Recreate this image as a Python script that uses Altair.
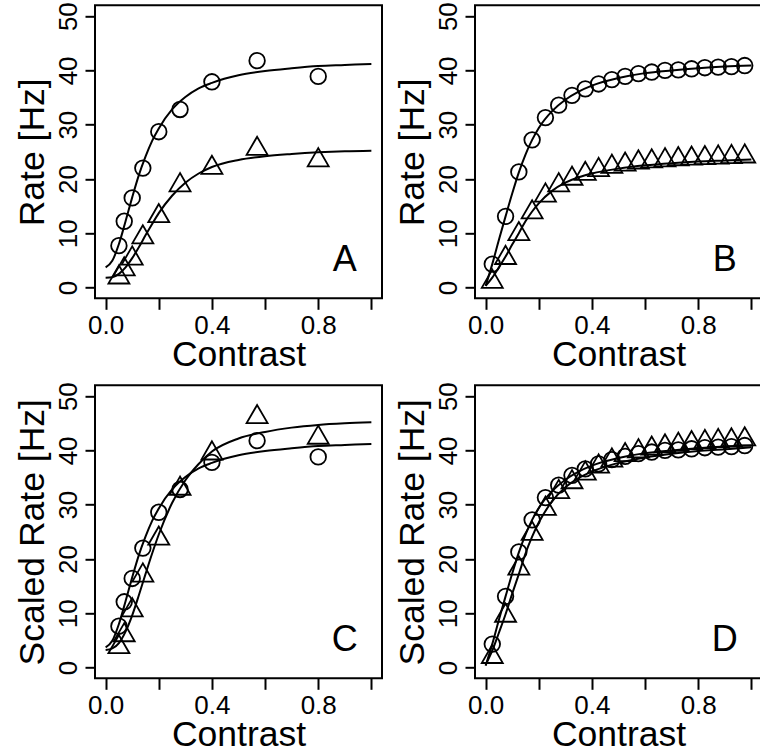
import altair as alt
import pandas as pd

FONT = "Liberation Sans"

# ---- measured points, panels A and C (contrast levels) ----
contrast_ac = [0.05, 0.07, 0.1, 0.14, 0.2, 0.28, 0.4, 0.57, 0.8]
rate_a_circle = [7.7, 12.2, 16.5, 22.0, 28.7, 32.8, 37.9, 41.8, 38.9]
rate_a_triangle = [2.4, 3.9, 5.9, 9.8, 13.7, 19.4, 22.6, 26.1, 24.0]
rate_c_circle = [7.6, 12.1, 16.4, 22.0, 28.6, 32.8, 37.8, 41.8, 38.8]
rate_c_triangle = [4.3, 6.5, 11.1, 17.5, 24.3, 33.5, 40.0, 46.7, 42.9]

# ---- model points, panels B and D ----
contrast_bd = [0.025, 0.075, 0.125, 0.175, 0.225, 0.275, 0.325, 0.375, 0.425, 0.475,
               0.525, 0.575, 0.625, 0.675, 0.725, 0.775, 0.825, 0.875, 0.925, 0.975]
rate_b_circle = [4.3, 13.1, 21.3, 27.2, 31.3, 33.6, 35.4, 36.6, 37.5, 38.3,
                 38.9, 39.4, 39.7, 40.0, 40.1, 40.3, 40.5, 40.6, 40.7, 40.9]
rate_b_triangle = [1.6, 6.0, 10.4, 14.4, 17.5, 19.4, 20.6, 21.5, 22.2, 22.8,
                   23.2, 23.6, 23.8, 24.0, 24.2, 24.3, 24.4, 24.5, 24.6, 24.7]
rate_d_circle = [4.3, 13.1, 21.3, 27.2, 31.3, 33.6, 35.4, 36.6, 37.5, 38.3,
                 38.9, 39.4, 39.7, 40.0, 40.1, 40.3, 40.5, 40.6, 40.7, 40.9]
rate_d_triangle = [2.5, 10.1, 18.8, 25.2, 29.8, 32.9, 34.7, 36.3, 37.6, 38.7,
                   39.7, 40.4, 40.9, 41.3, 41.6, 41.9, 42.1, 42.3, 42.4, 42.6]

# ---- fitted curves ----
fit_contrast = [0, 0.025, 0.05, 0.075, 0.1, 0.125, 0.15, 0.175, 0.2, 0.25, 0.3,
                0.35, 0.4, 0.5, 0.6, 0.7, 0.8, 0.9, 1.0]
fit_a_circle = [3.7, 4.9, 8.0, 12.2, 16.6, 20.7, 24.1, 27.0, 29.3, 32.8, 35.1,
                36.7, 37.7, 39.1, 39.9, 40.4, 40.8, 41.0, 41.2]
fit_a_triangle = [1.8, 1.9, 2.5, 3.7, 5.4, 7.4, 9.6, 11.7, 13.7, 16.9, 19.3,
                  21.0, 22.2, 23.5, 24.2, 24.6, 24.9, 25.1, 25.2]
fit_c_circle = [3.7, 4.9, 8.0, 12.2, 16.6, 20.7, 24.1, 27.0, 29.3, 32.8, 35.1,
                36.7, 37.7, 39.1, 39.9, 40.4, 40.8, 41.0, 41.2]
fit_c_triangle = [3.2, 3.5, 4.5, 6.6, 9.6, 13.3, 17.2, 21.0, 24.5, 30.3, 34.5,
                  37.5, 39.8, 42.2, 43.4, 44.2, 44.7, 45.0, 45.2]
fit_b_circle = [0.3, 4.3, 8.8, 13.1, 17.3, 21.2, 24.5, 27.2, 29.4, 32.5, 34.6,
                36.1, 37.2, 38.6, 39.5, 40.0, 40.4, 40.7, 40.9]
fit_b_triangle = [0.3, 1.8, 3.7, 5.7, 7.9, 10.0, 12.2, 14.0, 15.5, 17.8, 19.3,
                  20.3, 21.0, 21.9, 22.5, 22.9, 23.2, 23.4, 23.6]
fit_d_circle = [0.3, 4.3, 8.8, 13.1, 17.3, 21.2, 24.5, 27.2, 29.4, 32.5, 34.6,
                36.1, 37.2, 38.6, 39.5, 40.0, 40.4, 40.7, 40.9]
fit_d_triangle = [0.5, 3.1, 6.4, 9.8, 13.6, 17.2, 21.0, 24.1, 26.7, 30.6, 33.2,
                  34.9, 36.1, 37.7, 38.7, 39.4, 39.9, 40.2, 40.6]

panel_letters = ["A", "B", "C", "D"]
y_titles = ["Rate [Hz]", "Rate [Hz]", "Scaled Rate [Hz]", "Scaled Rate [Hz]"]
x_title = "Contrast"
x_ticks = [0, 0.2, 0.4, 0.6, 0.8, 1.0]
x_shown_labels = ["0.0", "0.4", "0.8"]
y_ticks = [0, 10, 20, 30, 40, 50]

LETTER_POS = (0.9, 5)
W, H = 287, 293
ORIGIN_X, ORIGIN_Y = 95, 5.3

label_list = "[" + ",".join("'%s'" % s for s in x_shown_labels) + "]"

x_axis = alt.Axis(
    values=x_ticks, format=".1f",
    labelExpr="indexof(%s, datum.label) >= 0 ? datum.label : ''" % label_list,
    domain=False, grid=False, tickSize=11, tickWidth=2, tickColor="black",
    labelFont=FONT, labelFontSize=26, labelColor="black",
    labelBaseline="alphabetic", labelPadding=23.7,
    labelFlush=False, labelOverlap=False,
    titleFont=FONT, titleFontSize=35.5, titleFontWeight="normal",
    titleColor="black", titleBaseline="alphabetic", titleY=66.7,
)


def y_axis():
    return alt.Axis(
        values=y_ticks, format="d",
        domain=False, grid=False, tickSize=10, tickWidth=2, tickColor="black",
        labelFont=FONT, labelFontSize=26, labelColor="black",
        labelAngle=-90, labelAlign="center", labelBaseline="alphabetic",
        labelPadding=9, labelFlush=False, labelOverlap=False,
        titleFont=FONT, titleFontSize=35.5, titleFontWeight="normal",
        titleColor="black", titleBaseline="alphabetic", titleAlign="center",
        titleX=-51.7, titleY=H / 2,
    )


def panel(idx, pts_c, circ, tri, fcirc, ftri):
    rows = []
    for c, r in zip(pts_c, circ):
        rows.append({"c": c, "r": r, "kind": "circle", "t": ""})
    for c, r in zip(pts_c, tri):
        rows.append({"c": c, "r": r, "kind": "triangle", "t": ""})
    for c, r in zip(fit_contrast, fcirc):
        rows.append({"c": c, "r": r, "kind": "fit_circle", "t": ""})
    for c, r in zip(fit_contrast, ftri):
        rows.append({"c": c, "r": r, "kind": "fit_triangle", "t": ""})
    rows.append({"c": LETTER_POS[0], "r": LETTER_POS[1], "kind": "label",
                 "t": panel_letters[idx]})
    df = pd.DataFrame(rows)
    base = alt.Chart(df).encode(
        x=alt.X("c:Q", scale=alt.Scale(domain=[-0.04, 1.04], nice=False, zero=False),
                axis=x_axis, title=x_title),
        y=alt.Y("r:Q", scale=alt.Scale(domain=[-2, 52], nice=False, zero=False),
                axis=y_axis(), title=y_titles[idx]),
    )
    line_fc = base.transform_filter("datum.kind == 'fit_circle'").mark_line(
        color="black", strokeWidth=2, interpolate="monotone")
    line_ft = base.transform_filter("datum.kind == 'fit_triangle'").mark_line(
        color="black", strokeWidth=2, interpolate="monotone")
    pts_circ = base.transform_filter("datum.kind == 'circle'").mark_point(
        shape="circle", filled=False, size=243, color="black", strokeWidth=1.8, opacity=1)
    pts_tri = base.transform_filter("datum.kind == 'triangle'").mark_point(
        shape="triangle-up", filled=False, size=441, color="black", strokeWidth=1.8, opacity=1)
    letter = base.transform_filter("datum.kind == 'label'").mark_text(
        font=FONT, fontSize=36, align="center", baseline="middle", color="black"
    ).encode(text="t:N")
    return alt.layer(line_fc, line_ft, pts_circ, pts_tri, letter).properties(width=W, height=H)


pA = panel(0, contrast_ac, rate_a_circle, rate_a_triangle, fit_a_circle, fit_a_triangle)
pB = panel(1, contrast_bd, rate_b_circle, rate_b_triangle, fit_b_circle, fit_b_triangle)
pC = panel(2, contrast_ac, rate_c_circle, rate_c_triangle, fit_c_circle, fit_c_triangle)
pD = panel(3, contrast_bd, rate_d_circle, rate_d_triangle, fit_d_circle, fit_d_triangle)

chart = alt.concat(
    pA, pB, pC, pD, columns=2,
    spacing={"row": 87, "column": 93}, bounds="flush",
).properties(
    autosize=alt.AutoSizeParams(type="none"),
    padding={"left": ORIGIN_X, "top": ORIGIN_Y,
             "right": 760 - ORIGIN_X, "bottom": 756 - ORIGIN_Y},
    background="white",
).configure_view(stroke="black", strokeWidth=2)

chart.save("out.html", embed_options={"renderer": "svg", "actions": False})
